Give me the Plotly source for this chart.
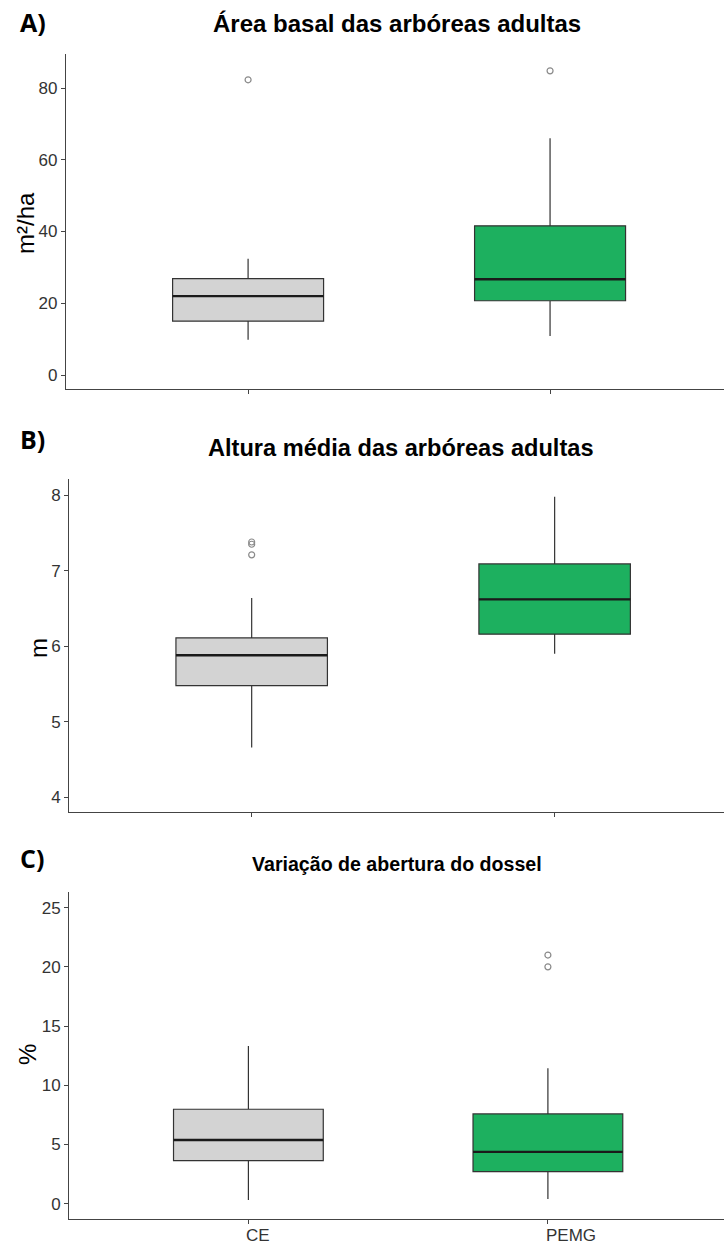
import plotly.graph_objects as go

W, H = 724, 1245

groups = ["CE", "PEMG"]
fills = ["#d3d3d3", "#1db05f"]

# Panel A: basal area (m²/ha)
area_q1 = [15.0, 20.7]
area_median = [22.0, 26.7]
area_q3 = [26.9, 41.6]
area_low = [9.8, 10.9]
area_high = [32.4, 66.0]
area_out_ce = [82.3]
area_out_pemg = [84.8]

# Panel B: mean height (m)
alt_q1 = [5.48, 6.16]
alt_median = [5.88, 6.62]
alt_q3 = [6.11, 7.09]
alt_low = [4.66, 5.90]
alt_high = [6.64, 7.98]
alt_out_ce = [7.21, 7.35, 7.38]
alt_out_pemg = []

# Panel C: canopy openness variation (%)
dos_q1 = [3.63, 2.70]
dos_median = [5.38, 4.37]
dos_q3 = [7.97, 7.58]
dos_low = [0.31, 0.40]
dos_high = [13.32, 11.44]
dos_out_ce = []
dos_out_pemg = [20.0, 21.0]

y_ticks_a = [0, 20, 40, 60, 80]
y_ticks_b = [4, 5, 6, 7, 8]
y_ticks_c = [0, 5, 10, 15, 20, 25]

SANS = "Liberation Sans"


def py(px):
    return 1 - px / H


def px_x(px):
    return px / W


panels = [
    dict(name="A", q1=area_q1, med=area_median, q3=area_q3, lo=area_low, hi=area_high,
         outs=[area_out_ce, area_out_pemg], ticks=y_ticks_a, yrange=[-3.9, 89.5],
         xrange=[-0.603, 1.576], xdom=[px_x(66), 1], ydom=[py(389), py(54)],
         title="Área basal das arbóreas adultas", title_x=397, title_y=23, title_size=24,
         tag="A)", tag_y=22, ylab="m²/ha", ylab_x=25, ylab_y=223, showx=False),
    dict(name="B", q1=alt_q1, med=alt_median, q3=alt_q3, lo=alt_low, hi=alt_high,
         outs=[alt_out_ce, alt_out_pemg], ticks=y_ticks_b, yrange=[3.81, 8.21],
         xrange=[-0.602, 1.559], xdom=[px_x(69.3), 1], ydom=[py(811.7), py(479.3)],
         title="Altura média das arbóreas adultas", title_x=401, title_y=448, title_size=23.6,
         tag="B)", tag_y=439, ylab="m", ylab_x=38, ylab_y=648, showx=False),
    dict(name="C", q1=dos_q1, med=dos_median, q3=dos_q3, lo=dos_low, hi=dos_high,
         outs=[dos_out_ce, dos_out_pemg], ticks=y_ticks_c, yrange=[-1.3, 26.35],
         xrange=[-0.598, 1.588], xdom=[px_x(69.3), 1], ydom=[py(1219), py(891.7)],
         title="Variação de abertura do dossel", title_x=397, title_y=864, title_size=19.6,
         tag="C)", tag_y=858, ylab="%", ylab_x=27, ylab_y=1055, showx=True),
]

fig = go.Figure()
annotations = []
layout_axes = {}

for k, p in enumerate(panels, start=1):
    xa = "x" if k == 1 else f"x{k}"
    ya = "y" if k == 1 else f"y{k}"
    for i, g in enumerate(groups):
        fig.add_trace(go.Box(
            x=[i], q1=[p["q1"][i]], median=[p["med"][i]], q3=[p["q3"][i]],
            lowerfence=[p["lo"][i]], upperfence=[p["hi"][i]],
            width=0.5, whiskerwidth=0, boxpoints=False,
            fillcolor=fills[i], line=dict(color="#333333", width=1.2),
            xaxis=xa, yaxis=ya, showlegend=False, hoverinfo="skip",
        ))
        # thicker median bar
        fig.add_trace(go.Scatter(
            x=[i - 0.25, i + 0.25], y=[p["med"][i], p["med"][i]], mode="lines",
            line=dict(color="#1a1a1a", width=2.4), xaxis=xa, yaxis=ya,
            showlegend=False, hoverinfo="skip",
        ))
        outs = p["outs"][i]
        if outs:
            fig.add_trace(go.Scatter(
                x=[i] * len(outs), y=outs, mode="markers",
                marker=dict(symbol="circle-open", size=6, color="#8a8a8a",
                            line=dict(width=1.2, color="#8a8a8a")),
                xaxis=xa, yaxis=ya, showlegend=False, hoverinfo="skip",
            ))
        if p["showx"]:
            # group labels under the ticks, set slightly right of centre
            annotations.append(dict(
                text=g, x=i, y=0, xref=xa, yref=f"{ya} domain",
                xanchor="left", yanchor="top", xshift=-4, yshift=-5, showarrow=False,
                font=dict(family=SANS, size=17, color="#333333"),
            ))

    xkey = "xaxis" if k == 1 else f"xaxis{k}"
    ykey = "yaxis" if k == 1 else f"yaxis{k}"
    layout_axes[xkey] = dict(
        domain=p["xdom"], anchor=ya, range=p["xrange"], tickvals=[0, 1],
        showticklabels=False,
        showline=True, linecolor="#444444", linewidth=1.4, ticks="outside",
        ticklen=4, tickwidth=1.1, tickcolor="#444444", showgrid=False,
        zeroline=False, fixedrange=True,
    )
    layout_axes[ykey] = dict(
        domain=p["ydom"], anchor=xa, range=p["yrange"], tickvals=p["ticks"],
        showline=True, linecolor="#444444", linewidth=1.4, ticks="outside",
        ticklen=4, tickwidth=1.1, tickcolor="#444444", showgrid=False,
        zeroline=False, tickfont=dict(family=SANS, size=17, color="#333333"),
        fixedrange=True,
    )

    annotations.append(dict(
        text=f"<b>{p['title']}</b>", x=p["title_x"] / W, y=py(p["title_y"]),
        xref="paper", yref="paper", xanchor="center", yanchor="middle", showarrow=False,
        font=dict(family=SANS, size=p["title_size"], color="#000000"),
    ))
    annotations.append(dict(
        text=f"<b>{p['tag']}</b>", x=18 / W, y=py(p["tag_y"]),
        xref="paper", yref="paper", xanchor="left", yanchor="middle", showarrow=False,
        font=dict(family="Open Sans", size=25, color="#000000"),
    ))
    annotations.append(dict(
        text=p["ylab"], x=p["ylab_x"] / W, y=py(p["ylab_y"]), textangle=-90,
        xref="paper", yref="paper", xanchor="center", yanchor="middle", showarrow=False,
        font=dict(family=SANS, size=24, color="#000000"),
    ))

fig.update_layout(
    width=W, height=H, margin=dict(l=0, r=0, t=0, b=0),
    paper_bgcolor="white", plot_bgcolor="white",
    annotations=annotations, **layout_axes,
)

fig.write_html("out.html", config=dict(displayModeBar=False))
